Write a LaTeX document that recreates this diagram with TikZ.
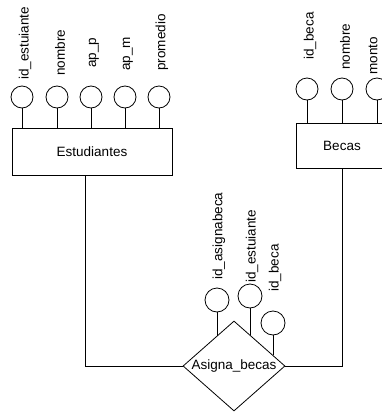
\documentclass[tikz,border=0pt]{standalone}
\usepackage{fontspec}
\setmainfont{Liberation Sans}
\usetikzlibrary{shapes.geometric,calc}
\begin{document}
\begin{tikzpicture}[x=1pt,y=-1pt,line width=.8pt,
  entidad/.style={draw,rectangle,inner sep=0pt},
  atrib/.style={draw,circle,inner sep=0pt,minimum size=22pt},
  rel/.style={draw,diamond,inner sep=0pt,minimum width=102pt,minimum height=90pt},
  etiq/.style={rotate=90,anchor=west,inner sep=0pt,font=\fontsize{13.5}{16}\selectfont}]
\useasboundingbox (0,0) rectangle (381,413);
\node[entidad,minimum width=160pt,minimum height=47pt,font=\fontsize{13.5}{16}\selectfont] (estudiantes) at (92,151.5) {Estudiantes};
\node[entidad,minimum width=92pt,minimum height=45pt,font=\fontsize{13.5}{16}\selectfont] (becas) at (342,145.5) {Becas};
\node[rel,label={[font=\fontsize{13.5}{16}\selectfont]center:Asigna\_becas}] (asigna) at (234,366) {};
\foreach \nom/\x/\y [count=\i] in {id\_estuiante/22/80,nombre/57/76,ap\_p/91/68,ap\_m/125/71,promedio/159/71}{
  \node[atrib] (e\i) at (\x,97) {};
  \draw (e\i) -- (e\i |- estudiantes.north);
  \node[etiq] (le\i) at (\x+3,\y) {\nom};
}
\foreach \nom/\x/\y/\dx [count=\i] in {id\_beca/307/60/3,nombre/342/70/3,monto/377/75/-4}{
  \node[atrib] (b\i) at (\x,89) {};
  \draw (b\i) -- (b\i |- becas.north);
  \node[etiq] (lb\i) at (\x+\dx,\y) {\nom};
}
\coordinate (p1) at ($(asigna.north)!.333!(asigna.west)$);
\coordinate (p2) at ($(asigna.north)!.314!(asigna.east)$);
\coordinate (p3) at ($(asigna.north)!.765!(asigna.east)$);
\foreach \nom/\x/\y/\yy [count=\i] in {id\_asignabeca/217/280/300,id\_estuiante/250/283/296,id\_beca/273/292/323}{
  \node[atrib,minimum size=24pt] (a\i) at (\x,\yy) {};
  \draw (a\i) -- (a\i |- p\i);
  \node[etiq] (la\i) at (\x+2,\y) {\nom};
}
\draw ([xshift=-7pt]estudiantes.south) |- (asigna.west);
\draw (becas.south) |- (asigna.east);
\end{tikzpicture}
\end{document}
